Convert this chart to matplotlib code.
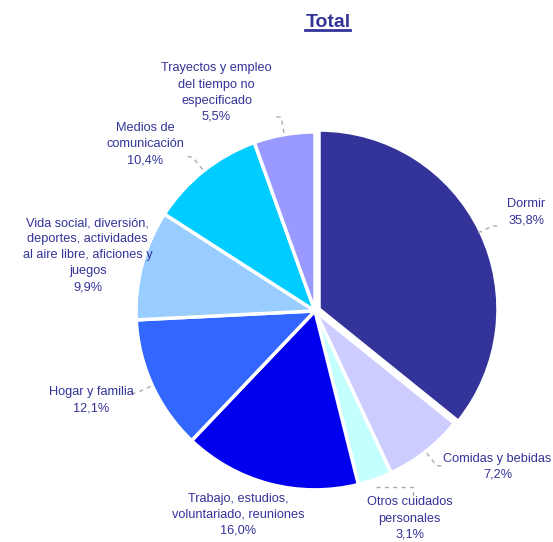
import matplotlib.pyplot as plt
import numpy as np
from matplotlib.lines import Line2D

plt.rcParams['font.family'] = ['Liberation Sans', 'DejaVu Sans']

# data
labels = ['Dormir', 'Comidas y bebidas', 'Otros cuidados\npersonales',
          'Trabajo, estudios,\nvoluntariado, reuniones', 'Hogar y familia',
          'Vida social, diversión,\ndeportes, actividades\nal aire libre, aficiones y\njuegos',
          'Medios de\ncomunicación', 'Trayectos y empleo\ndel tiempo no\nespecificado']
values = [35.8, 7.2, 3.1, 16.0, 12.1, 9.9, 10.4, 5.5]
colors = ['#333399', '#CCCCFF', '#C4FFFF', '#0000EE', '#3366FF',
          '#99CCFF', '#00CCFF', '#9999FF']
explode = [0.025, 0, 0, 0, 0, 0, 0, 0]

# label placement (centre of text block, data units with pie radius 1)
label_pos = [(1.18, 0.55), (1.02, -0.87), (0.53, -1.16), (-0.43, -1.14),
             (-1.25, -0.50), (-1.27, 0.31), (-0.95, 0.93), (-0.55, 1.22)]
# leader stub direction
stub = [1, 1, 1, 0, -1, 0, -1, -1]

txt_color = '#333399'
lead_color = '#AAAAAA'

fig = plt.figure(figsize=(5.53, 5.42), dpi=100)
ax = fig.add_axes([0, 0, 1, 1])

wedges, _ = ax.pie(values, colors=colors, startangle=90, counterclock=False,
                   explode=explode, radius=1.0, frame=True,
                   wedgeprops=dict(edgecolor='white', linewidth=2.5))
ax.set_xlim(-1.760, 1.330)
ax.set_ylim(-1.291, 1.737)
ax.set_aspect('equal')
ax.axis('off')

for i, (w, lab, v, pos, s) in enumerate(zip(wedges, labels, values, label_pos, stub)):
    ang = np.deg2rad((w.theta1 + w.theta2) / 2)
    c = np.array([np.cos(ang), np.sin(ang)])
    if i == 2:
        # Otros cuidados: horizontal then down
        p0 = c * 1.01
        ax.add_line(Line2D([p0[0], 0.55, 0.55],
                           [p0[1] - 0.03, p0[1] - 0.03, p0[1] - 0.1],
                           color=lead_color, lw=1, ls=(0, (3, 3))))
    elif s != 0:
        p0 = c * 1.01
        p1 = c * 1.1
        p2 = p1 + np.array([0.05 * s, 0])
        ax.add_line(Line2D([p0[0], p1[0], p2[0]], [p0[1], p1[1], p2[1]],
                           color=lead_color, lw=1, ls=(0, (3, 3))))
    ax.text(pos[0], pos[1], f'{lab}\n{v:.1f}%'.replace('.', ','),
            ha='center', va='center', fontsize=9.2, color=txt_color,
            linespacing=1.45)

title = fig.text(0.593, 0.958, 'Total', ha='center', va='center',
                 fontsize=14, fontweight='bold', color=txt_color)
fig.canvas.draw()
bb = title.get_window_extent().transformed(fig.transFigure.inverted())
fig.add_artist(Line2D([bb.x0, bb.x1], [bb.y0 + 0.002, bb.y0 + 0.002],
                      transform=fig.transFigure, color=txt_color, lw=2))

fig.savefig('out.png', dpi=100)
